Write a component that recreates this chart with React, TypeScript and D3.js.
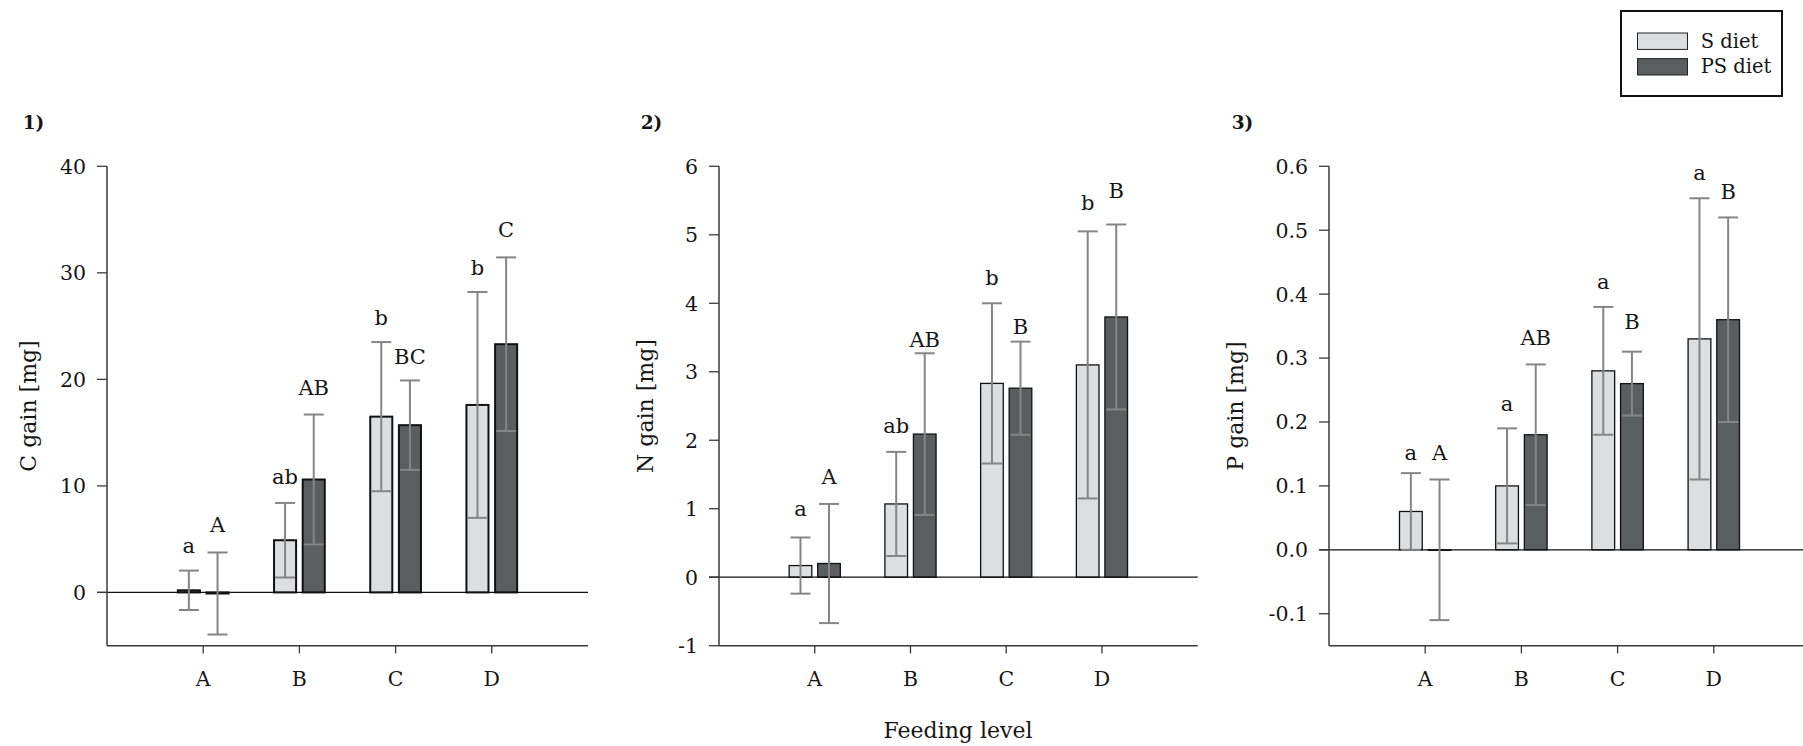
import React from 'react';
import * as d3 from 'd3';

// Feeding levels on the x axis
const CATEGORIES = ['A', 'B', 'C', 'D'];

// C gain [mg]
const C_S_MEAN = [0.2, 4.9, 16.5, 17.6];
const C_S_ERR = [1.85, 3.5, 7.0, 10.6];
const C_PS_MEAN = [-0.1, 10.6, 15.7, 23.3];
const C_PS_ERR = [3.85, 6.1, 4.2, 8.15];
const C_S_LETTERS = ['a', 'ab', 'b', 'b'];
const C_PS_LETTERS = ['A', 'AB', 'BC', 'C'];
const C_TICKS = [0, 10, 20, 30, 40];

// N gain [mg]
const N_S_MEAN = [0.17, 1.07, 2.83, 3.1];
const N_S_ERR = [0.41, 0.76, 1.17, 1.95];
const N_PS_MEAN = [0.2, 2.09, 2.76, 3.8];
const N_PS_ERR = [0.87, 1.18, 0.68, 1.35];
const N_S_LETTERS = ['a', 'ab', 'b', 'b'];
const N_PS_LETTERS = ['A', 'AB', 'B', 'B'];
const N_TICKS = [-1, 0, 1, 2, 3, 4, 5, 6];

// P gain [mg]
const P_S_MEAN = [0.06, 0.1, 0.28, 0.33];
const P_S_ERR = [0.06, 0.09, 0.1, 0.22];
const P_PS_MEAN = [0.0, 0.18, 0.26, 0.36];
const P_PS_ERR = [0.11, 0.11, 0.05, 0.16];
const P_S_LETTERS = ['a', 'a', 'a', 'a'];
const P_PS_LETTERS = ['A', 'AB', 'B', 'B'];
const P_TICKS = [-0.1, 0.0, 0.1, 0.2, 0.3, 0.4, 0.5, 0.6];

const SERIES_NAMES = ['S diet', 'PS diet'];

const FONT = "'DejaVu Serif', serif";
const S_FILL = '#dcdedf';
const PS_FILL = '#5b5e5f';
const ERR_COLOR = '#858585';
const AXIS_COLOR = '#3a3a3a';
const TEXT_COLOR = '#161616';

const TOP = 166.3;
const BOTTOM = 645.7;

// Label lift above each upper cap (px)
const C_LIFT_S = [18, 19, 17, 17];
const C_LIFT_PS = [20, 19.5, 16.5, 20];
const N_LIFT_S = [21, 19, 18, 21];
const N_LIFT_PS = [20, 6, 8, 27];
const P_LIFT_S = [13, 17, 18, 18];
const P_LIFT_PS = [20, 19, 23, 18];

// Plain hyphen for negatives, as in the printed axes
const intFmt = (v: number) => d3.format('d')(v).replace('\u2212', '-');
const oneDecFmt = (v: number) => d3.format('.1f')(v).replace('\u2212', '-');

type PanelSpec = {
  tag: string;
  title: string;
  x0: number;
  x1: number;
  domain: [number, number];
  ticks: number[];
  fmt: (v: number) => string;
  sMean: number[];
  sErr: number[];
  psMean: number[];
  psErr: number[];
  sLetters: string[];
  psLetters: string[];
  liftS: number[];
  liftPS: number[];
  barStroke: number;
  titleX: number;
};

const PANELS: PanelSpec[] = [
  {
    tag: '1)', title: 'C gain [mg]', x0: 107, x1: 588, domain: [-5, 40], ticks: C_TICKS,
    fmt: intFmt,
    sMean: C_S_MEAN, sErr: C_S_ERR, psMean: C_PS_MEAN, psErr: C_PS_ERR,
    sLetters: C_S_LETTERS, psLetters: C_PS_LETTERS, liftS: C_LIFT_S, liftPS: C_LIFT_PS,
    barStroke: 2, titleX: 28.5,
  },
  {
    tag: '2)', title: 'N gain [mg]', x0: 719, x1: 1197.7, domain: [-1, 6], ticks: N_TICKS,
    fmt: intFmt,
    sMean: N_S_MEAN, sErr: N_S_ERR, psMean: N_PS_MEAN, psErr: N_PS_ERR,
    sLetters: N_S_LETTERS, psLetters: N_PS_LETTERS, liftS: N_LIFT_S, liftPS: N_LIFT_PS,
    barStroke: 1.3, titleX: 645,
  },
  {
    tag: '3)', title: 'P gain [mg]', x0: 1329, x1: 1810, domain: [-0.15, 0.6], ticks: P_TICKS,
    fmt: oneDecFmt,
    sMean: P_S_MEAN, sErr: P_S_ERR, psMean: P_PS_MEAN, psErr: P_PS_ERR,
    sLetters: P_S_LETTERS, psLetters: P_PS_LETTERS, liftS: P_LIFT_S, liftPS: P_LIFT_PS,
    barStroke: 1.3, titleX: 1235,
  },
];

function Panel({ p }: { p: PanelSpec }) {
  const x = d3.scaleLinear().domain([0, CATEGORIES.length + 1]).range([p.x0, p.x1]);
  const y = d3.scaleLinear().domain(p.domain).range([BOTTOM, TOP]);
  const unit = x(1) - x(0);
  const outerW = unit * 0.25;
  const offset = unit * 0.149;
  const capHalf = 10;

  const groups = [
    { mean: p.sMean, err: p.sErr, letters: p.sLetters, lift: p.liftS, fill: S_FILL, dx: -offset },
    { mean: p.psMean, err: p.psErr, letters: p.psLetters, lift: p.liftPS, fill: PS_FILL, dx: offset },
  ];

  return (
    <g>
      {/* bars */}
      {groups.map((g, gi) =>
        CATEGORIES.map((c, i) => {
          const cx = x(i + 1) + g.dx;
          const y0 = y(0);
          const yv = y(g.mean[i]);
          const top = Math.min(y0, yv);
          const h = Math.max(Math.abs(y0 - yv), 0.5);
          const sw = p.barStroke;
          return (
            <rect key={`b${gi}${c}`} x={cx - outerW / 2 + sw / 2} y={top} width={outerW - sw} height={h}
              fill={g.fill} stroke="#111" strokeWidth={sw} />
          );
        })
      )}
      {/* zero line */}
      <line x1={p.x0 - 10} x2={p.x1} y1={y(0)} y2={y(0)} stroke="#111" strokeWidth={1.3} />
      {/* error bars and letters */}
      {groups.map((g, gi) =>
        CATEGORIES.map((c, i) => {
          const cx = x(i + 1) + g.dx;
          const hi = y(g.mean[i] + g.err[i]);
          const lo = y(g.mean[i] - g.err[i]);
          return (
            <g key={`e${gi}${c}`}>
              <line x1={cx} x2={cx} y1={hi} y2={lo} stroke={ERR_COLOR} strokeWidth={2} />
              <line x1={cx - capHalf} x2={cx + capHalf} y1={hi} y2={hi} stroke={ERR_COLOR} strokeWidth={2} />
              <line x1={cx - capHalf} x2={cx + capHalf} y1={lo} y2={lo} stroke={ERR_COLOR} strokeWidth={2} />
              <text x={cx} y={hi - g.lift[i]} textAnchor="middle" fontFamily={FONT} fontSize={21} fill={TEXT_COLOR}>
                {g.letters[i]}
              </text>
            </g>
          );
        })
      )}
      {/* axes */}
      <line x1={p.x0} x2={p.x0} y1={TOP} y2={BOTTOM} stroke={AXIS_COLOR} strokeWidth={1.5} />
      <line x1={p.x0} x2={p.x1} y1={BOTTOM} y2={BOTTOM} stroke={AXIS_COLOR} strokeWidth={1.5} />
      {p.ticks.map((t) => (
        <g key={`yt${t}`}>
          <line x1={p.x0 - 10} x2={p.x0} y1={y(t)} y2={y(t)} stroke={AXIS_COLOR} strokeWidth={1.3} />
          <text x={p.x0 - 21} y={y(t)} dy="0.36em" textAnchor="end" fontFamily={FONT} fontSize={20.5} fill={TEXT_COLOR}>
            {p.fmt(t)}
          </text>
        </g>
      ))}
      {CATEGORIES.map((c, i) => (
        <g key={`xt${c}`}>
          <line x1={x(i + 1)} x2={x(i + 1)} y1={BOTTOM} y2={BOTTOM + 7.7} stroke={AXIS_COLOR} strokeWidth={1.3} />
          <text x={x(i + 1)} y={686} textAnchor="middle" fontFamily={FONT} fontSize={20.5} fill={TEXT_COLOR}>
            {c}
          </text>
        </g>
      ))}
      {/* axis title */}
      <text transform={`translate(${p.titleX},${(TOP + BOTTOM) / 2}) rotate(-90)`} dy="0.35em" textAnchor="middle"
        fontFamily={FONT} fontSize={22} fill={TEXT_COLOR}>
        {p.title}
      </text>
    </g>
  );
}

const TAGS = [
  { text: '1)', x: 22.7 },
  { text: '2)', x: 640.7 },
  { text: '3)', x: 1231.7 },
];

export default function App() {
  return (
    <div style={{ position: 'absolute', left: 0, top: 0 }}>
      <svg width={1803} height={746} style={{ display: 'block', background: '#fff' }}>
        <rect x={0} y={0} width={1803} height={746} fill="#fff" />
        {PANELS.map((p) => (
          <Panel key={p.tag} p={p} />
        ))}
        {TAGS.map((t) => (
          <text key={t.text} x={t.x} y={128.5} fontFamily={FONT} fontWeight="bold" fontSize={18.5} fill={TEXT_COLOR}>
            {t.text}
          </text>
        ))}
        <text x={958} y={738} textAnchor="middle" fontFamily={FONT} fontSize={22} fill={TEXT_COLOR}>
          Feeding level
        </text>
        {/* legend */}
        <rect x={1621} y={11} width={161} height={85} fill="#fff" stroke="#111" strokeWidth={2} />
        {SERIES_NAMES.map((name, i) => (
          <g key={name}>
            <rect x={1637.5} y={33 + i * 25.6} width={50} height={16.4} fill={i === 0 ? S_FILL : PS_FILL}
              stroke="#222" strokeWidth={1} />
            <text x={1700.7} y={41 + i * 25.6} dy="0.35em" fontFamily={FONT} fontSize={19.5} fill={TEXT_COLOR}>
              {name}
            </text>
          </g>
        ))}
      </svg>
    </div>
  );
}
